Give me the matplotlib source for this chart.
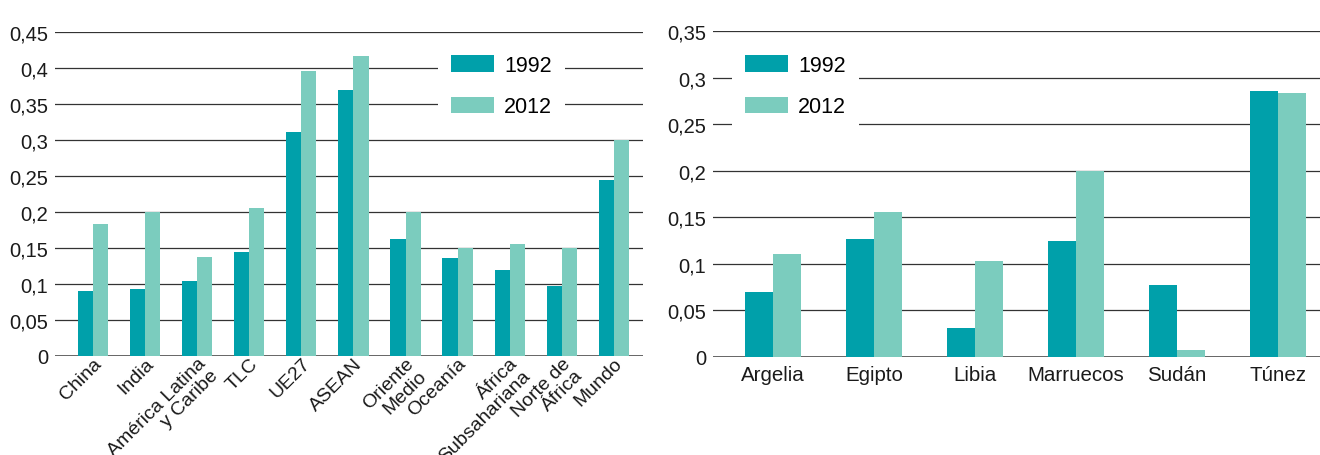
import numpy as np
import matplotlib
matplotlib.use("Agg")
import matplotlib.pyplot as plt

plt.rcParams['font.family'] = ['Liberation Sans', 'DejaVu Sans']

# left panel: regions
regions = ["China", "India", "América Latina\ny Caribe", "TLC", "UE27", "ASEAN",
           "Oriente\nMedio", "Oceanía", "África\nSubsahariana",
           "Norte de\nÁfrica", "Mundo"]
reg_1992 = [0.090, 0.093, 0.104, 0.145, 0.311, 0.369, 0.163, 0.136, 0.119, 0.097, 0.245]
reg_2012 = [0.183, 0.200, 0.138, 0.206, 0.396, 0.417, 0.200, 0.150, 0.155, 0.150, 0.300]
reg_ticks = [0, 0.05, 0.1, 0.15, 0.2, 0.25, 0.3, 0.35, 0.4, 0.45]

# right panel: North Africa countries
countries = ["Argelia", "Egipto", "Libia", "Marruecos", "Sudán", "Túnez"]
cty_1992 = [0.070, 0.127, 0.031, 0.125, 0.077, 0.286]
cty_2012 = [0.111, 0.156, 0.103, 0.200, 0.008, 0.283]
cty_ticks = [0, 0.05, 0.1, 0.15, 0.2, 0.25, 0.3, 0.35]

years = ["1992", "2012"]
c1992 = "#00a0aa"
c2012 = "#7bccbe"


def fmt(v):
    s = ("%.2f" % v).rstrip("0").rstrip(".")
    return s.replace(".", ",")


def style(ax, ticks):
    ax.set_ylim(0, ticks[-1])
    ax.set_yticks(ticks)
    ax.set_yticklabels([fmt(t) for t in ticks], fontsize=14.5, color="#1a1a1a")
    ax.tick_params(axis="both", length=0)
    ax.tick_params(axis="y", pad=5)
    ax.yaxis.grid(True, color="#333333", lw=0.9)
    ax.set_axisbelow(True)
    for s in ax.spines.values():
        s.set_visible(False)
    ax.axhline(0, color="#5a5a5a", lw=2, zorder=1)


fig = plt.figure(figsize=(13.2, 4.56), dpi=100)

# left chart
ax1 = fig.add_axes([55 / 1320, 99 / 456, 588 / 1320, 324 / 456])
x = np.arange(len(regions))
w = 0.29
ax1.bar(x - w / 2, reg_1992, w, color=c1992, label=years[0], zorder=2)
ax1.bar(x + w / 2, reg_2012, w, color=c2012, label=years[1], zorder=2)
style(ax1, reg_ticks)
ax1.set_xlim(-0.73, 10.56)
ax1.set_xticks(x)
ax1.set_xticklabels(regions, rotation=45, ha="right", rotation_mode="anchor",
                    multialignment="right", fontsize=14, color="#1a1a1a",
                    linespacing=1.0)
ax1.tick_params(axis="x", pad=-1)

# right chart
ax2 = fig.add_axes([713 / 1320, 98 / 456, 607 / 1320, 326 / 456])
x2 = np.arange(len(countries))
w2 = 0.275
ax2.bar(x2 - 0.14, cty_1992, w2, color=c1992, label=years[0], zorder=2)
ax2.bar(x2 + 0.14, cty_2012, w2, color=c2012, label=years[1], zorder=2)
style(ax2, cty_ticks)
ax2.set_xlim(-0.594, 5.416)
ax2.set_xticks(x2)
ax2.set_xticklabels(countries, fontsize=14.8, color="#1a1a1a")
ax2.tick_params(axis="x", pad=6)

leg_kw = dict(loc="upper left", fontsize=15.5, frameon=True, fancybox=False,
              borderaxespad=0, borderpad=0.6, handlelength=2.0,
              handleheight=0.8, handletextpad=0.47, labelspacing=0.95)
for ax, anchor in [(ax1, (0.651, 0.969)), (ax2, (0.0313, 0.966))]:
    leg = ax.legend(bbox_to_anchor=anchor, **leg_kw)
    leg.get_frame().set_facecolor("white")
    leg.get_frame().set_edgecolor("none")
    leg.get_frame().set_alpha(1)

fig.savefig("out.png", dpi=100)
